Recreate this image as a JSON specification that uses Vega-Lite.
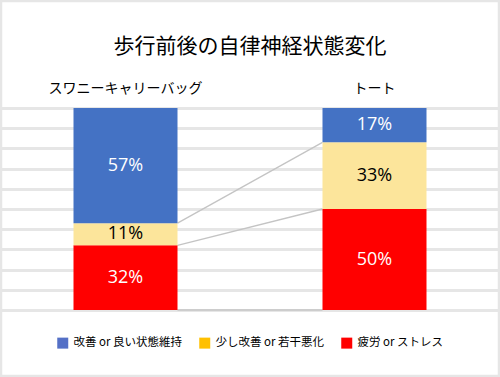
{
  "$schema": "https://vega.github.io/schema/vega-lite/v6.json",
  "width": 500,
  "height": 377,
  "padding": 0,
  "autosize": {"type": "none"},
  "background": "white",
  "config": {"view": {"stroke": "#e6e6e6", "strokeWidth": 4.5}, "font": "Noto Sans CJK JP"},
  "title": {"text": "歩行前後の自律神経状態変化", "fontSize": 21, "fontWeight": "normal", "color": "#000000", "offset": -57, "anchor": "middle", "frame": "group", "font": "Noto Sans CJK JP"},
  "datasets": {
    "bars": [
      {"bag": "スワニーキャリーバッグ", "cat": "疲労 or ストレス", "value": 32, "ord": 1},
      {"bag": "スワニーキャリーバッグ", "cat": "少し改善 or 若干悪化", "value": 11, "ord": 2},
      {"bag": "スワニーキャリーバッグ", "cat": "改善 or 良い状態維持", "value": 57, "ord": 3},
      {"bag": "トート", "cat": "疲労 or ストレス", "value": 50, "ord": 1},
      {"bag": "トート", "cat": "少し改善 or 若干悪化", "value": 33, "ord": 2},
      {"bag": "トート", "cat": "改善 or 良い状態維持", "value": 17, "ord": 3}
    ],
    "links": [
      {"from": "スワニーキャリーバッグ", "to": "トート", "a": 0, "b": 0},
      {"from": "スワニーキャリーバッグ", "to": "トート", "a": 32, "b": 50},
      {"from": "スワニーキャリーバッグ", "to": "トート", "a": 43, "b": 83}
    ]
  },
  "layer": [
    {
      "data": {"name": "links"},
      "mark": {"type": "rule", "color": "#c4c4c4", "strokeWidth": 1.3},
      "encoding": {
        "x": {"field": "from", "type": "nominal", "bandPosition": 1,
              "scale": {"type": "band", "domain": ["スワニーキャリーバッグ", "トート"], "paddingInner": 0.5823, "paddingOuter": 0.2952},
              "axis": {"orient": "top", "offset": -97, "title": null, "domain": false, "ticks": false, "grid": false, "labelFontSize": 14, "labelColor": "#000000", "labelAngle": 0, "labelPadding": 2, "labelFont": "Noto Sans CJK JP"}},
        "x2": {"field": "to", "bandPosition": 0},
        "y": {"field": "a", "type": "quantitative",
              "scale": {"domain": [-33.17, 153.47], "nice": false, "zero": false},
              "axis": {"values": [0, 10, 20, 30, 40, 50, 60, 70, 80, 90, 100], "grid": true, "gridColor": "#e6e6e6", "gridWidth": 3, "labels": false, "ticks": false, "domain": false, "title": null}},
        "y2": {"field": "b"}
      }
    },
    {
      "data": {"name": "bars"},
      "transform": [
        {"stack": "value", "groupby": ["bag"], "sort": [{"field": "ord", "order": "ascending"}], "as": ["y0", "y1"]}
      ],
      "mark": {"type": "bar"},
      "encoding": {
        "x": {"field": "bag", "type": "nominal",
              "scale": {"type": "band", "domain": ["スワニーキャリーバッグ", "トート"], "paddingInner": 0.5823, "paddingOuter": 0.2952},
              "axis": {"orient": "top", "offset": -97, "title": null, "domain": false, "ticks": false, "grid": false, "labelFontSize": 14, "labelColor": "#000000", "labelAngle": 0, "labelPadding": 2, "labelFont": "Noto Sans CJK JP"}},
        "y": {"field": "y0", "type": "quantitative",
              "scale": {"domain": [-33.17, 153.47], "nice": false, "zero": false},
              "axis": {"values": [0, 10, 20, 30, 40, 50, 60, 70, 80, 90, 100], "grid": true, "gridColor": "#e6e6e6", "gridWidth": 3, "labels": false, "ticks": false, "domain": false, "title": null}},
        "y2": {"field": "y1"},
        "fill": {"field": "ord", "type": "nominal", "legend": null,
                 "scale": {"domain": [3, 2, 1], "range": ["#4472c4", "#fce59b", "#ff0000"]}}
      }
    },
    {
      "data": {"name": "bars"},
      "transform": [
        {"stack": "value", "groupby": ["bag"], "sort": [{"field": "ord", "order": "ascending"}], "as": ["y0", "y1"]},
        {"calculate": "(datum.y0 + datum.y1) / 2", "as": "ymid"},
        {"calculate": "datum.value + '%'", "as": "label"}
      ],
      "mark": {"type": "text", "fontSize": 18, "font": "Open Sans", "baseline": "middle", "align": "center"},
      "encoding": {
        "x": {"field": "bag", "type": "nominal",
              "scale": {"type": "band", "domain": ["スワニーキャリーバッグ", "トート"], "paddingInner": 0.5823, "paddingOuter": 0.2952},
              "axis": {"orient": "top", "offset": -97, "title": null, "domain": false, "ticks": false, "grid": false, "labelFontSize": 14, "labelColor": "#000000", "labelAngle": 0, "labelPadding": 2, "labelFont": "Noto Sans CJK JP"}},
        "y": {"field": "ymid", "type": "quantitative",
              "scale": {"domain": [-33.17, 153.47], "nice": false, "zero": false},
              "axis": {"values": [0, 10, 20, 30, 40, 50, 60, 70, 80, 90, 100], "grid": true, "gridColor": "#e6e6e6", "gridWidth": 3, "labels": false, "ticks": false, "domain": false, "title": null}},
        "text": {"field": "label", "type": "nominal"},
        "color": {"condition": {"test": "datum.ord === 2", "value": "#000000"}, "value": "#ffffff"}
      }
    },
    {
      "data": {"name": "bars"},
      "mark": {"type": "square", "size": 0},
      "encoding": {
        "x": {"field": "bag", "type": "nominal",
              "scale": {"type": "band", "domain": ["スワニーキャリーバッグ", "トート"], "paddingInner": 0.5823, "paddingOuter": 0.2952},
              "axis": {"orient": "top", "offset": -97, "title": null, "domain": false, "ticks": false, "grid": false, "labelFontSize": 14, "labelColor": "#000000", "labelAngle": 0, "labelPadding": 2, "labelFont": "Noto Sans CJK JP"}},
        "y": {"field": "value", "type": "quantitative",
              "scale": {"domain": [-33.17, 153.47], "nice": false, "zero": false},
              "axis": {"values": [0, 10, 20, 30, 40, 50, 60, 70, 80, 90, 100], "grid": true, "gridColor": "#e6e6e6", "gridWidth": 3, "labels": false, "ticks": false, "domain": false, "title": null}},
        "color": {"field": "cat", "type": "nominal",
                  "scale": {"domain": ["改善 or 良い状態維持", "少し改善 or 若干悪化", "疲労 or ストレス"], "range": ["#5470c6", "#ffc000", "#ff0000"]},
                  "legend": {"orient": "none", "legendX": 57, "legendY": 337, "direction": "horizontal", "columns": 3, "title": null, "symbolType": "square", "symbolSize": 121, "symbolOpacity": 1, "symbolStrokeWidth": 0, "labelFontSize": 11.5, "labelColor": "#000000", "labelFont": "Noto Sans CJK JP", "labelOffset": 5, "columnPadding": 16, "padding": 0}}
      }
    }
  ]
}
